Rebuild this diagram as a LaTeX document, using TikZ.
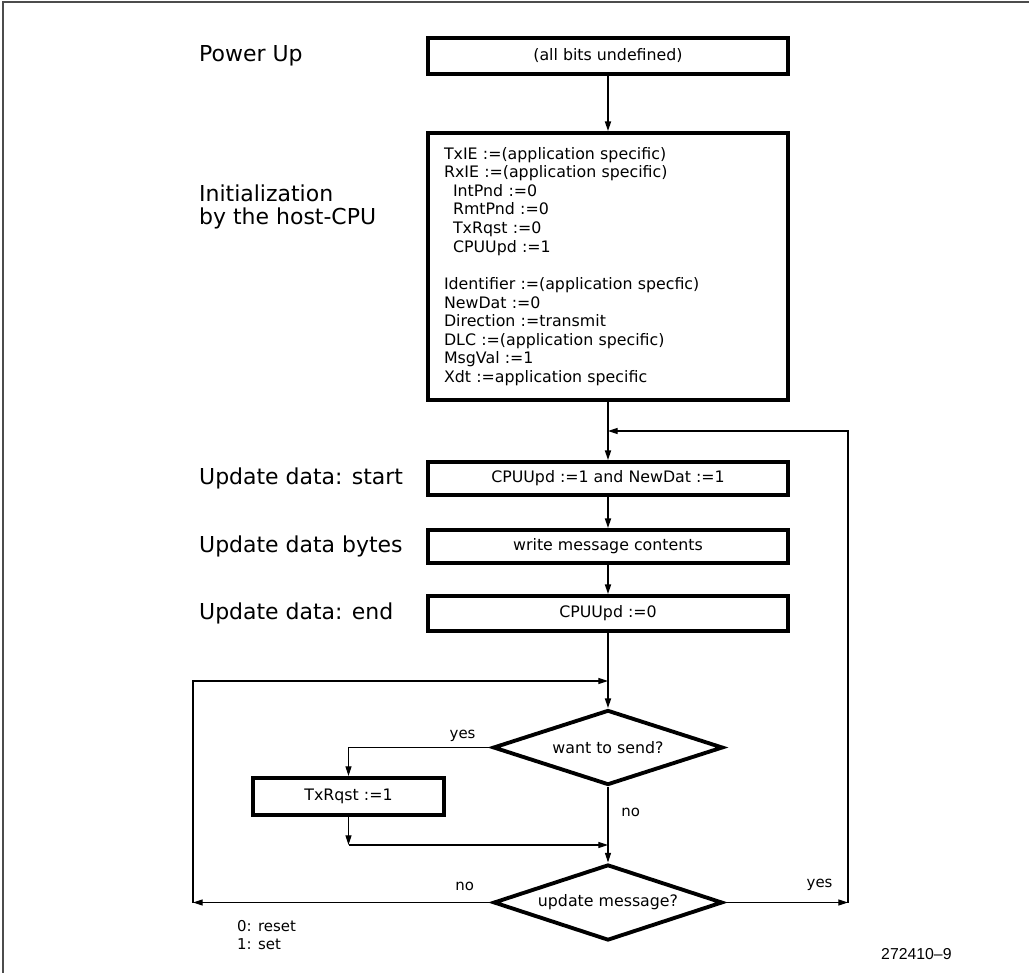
\documentclass[tikz,border=0pt]{standalone}
\usepackage{fontspec}
\setmainfont{DejaVu Sans}
\newfontfamily\fignofont{Liberation Sans}
\usetikzlibrary{positioning, shapes.geometric, arrows.meta}
\newcommand{\flowfont}{\fontsize{9}{10.6}\selectfont}
\newcommand{\stagefont}{\fontsize{12.5}{12.8}\selectfont}
\newcommand{\tagfont}{\fontsize{8.5}{10.2}\selectfont}
\tikzset{
	arrow/.style={
		draw=black,
		line width=1pt,
		-{Stealth[length=5.5pt,width=3.4pt,inset=0pt]}
	},
	loopline/.style={
		arrow,
		line width=0.6pt
	},
	flowbox/.style={
		draw=black,
		rectangle,
		line width=2.2pt,
		minimum width=7.2cm,
		inner sep=0pt,
		align=center,
		font=\flowfont
	},
	decision/.style={
		draw=black,
		diamond,
		aspect=3,
		line width=2.2pt,
		inner sep=0pt,
		font=\flowfont
	},
	stage/.style={anchor=west, align=left, font=\stagefont},
	tag/.style={font=\tagfont},
}

\begin{document}
\begin{tikzpicture}[x=0.02cm, y=-0.02cm]
\useasboundingbox (0,0) rectangle (1029,973);

% Frame
\draw[line width=1pt, black!70] (3,973) -- (3,2) -- (1029,2);

% Steps
\node[flowbox, minimum height=0.72cm] (Pwr) at (608,56) {(all bits undefined)};
\node[flowbox, minimum height=5.34cm, text width=6.56cm, align=left] (Init) at (608,266.5) {
	TxIE :=(application specific)\\
	RxIE :=(application specific)\\
	\hspace*{0.18cm}IntPnd :=0\\
	\hspace*{0.18cm}RmtPnd :=0\\
	\hspace*{0.18cm}TxRqst :=0\\
	\hspace*{0.18cm}CPUUpd :=1\\[10.6pt]
	Identifier :=(application specfic)\\
	NewDat :=0\\
	Direction :=transmit\\
	DLC :=(application specific)\\
	MsgVal :=1\\
	Xdt :=application specific
};
\node[flowbox, minimum height=0.66cm] (Start) at (608,478.5) {CPUUpd :=1 and NewDat :=1};
\node[flowbox, minimum height=0.66cm] (Bytes) at (608,546.5) {write message contents};
\node[flowbox, minimum height=0.7cm] (End) at (608,613.5) {CPUUpd :=0};

% Decisions
\node[decision, minimum width=4.6cm, minimum height=1.5cm] (Send) at (608,747.5) {want to send?};
\node[flowbox, minimum width=3.82cm, minimum height=0.74cm] (Tx) at (348.5,796.5) {TxRqst :=1};
\node[decision, minimum width=4.58cm, minimum height=1.52cm] (Upd) at (608,902.5) {update message?};

% Stage labels
\node[stage] (PwrL) at (193,56) {Power Up};
\node[stage] (InitL) at (193,207) {Initialization\\by the host-CPU};
\node[stage] (StartL) at (193,478.5) {Update data: start};
\node[stage] (BytesL) at (193,546.5) {Update data bytes};
\node[stage] (EndL) at (193,613.5) {Update data: end};

% Key and figure number
\node[tag, anchor=west, align=left] (Key) at (231,935) {0: reset\\1: set};
\node[anchor=west, font=\fignofont\fontsize{9}{10}\selectfont] (FigNo) at (875,954) {272410–9};

% Corner points
\coordinate (LoopR) at (608,431);
\coordinate (LoopL) at (608,681);
\coordinate (TxEnd) at (348.5,845);
\coordinate (Merge) at (608,845);
\coordinate (NoEnd) at (193,902.5);
\coordinate (YesEnd) at (848,902.5);

% Arrows
\draw [arrow] (Pwr) -- (Init);
\draw [arrow] (Init) -- (Start);
\draw [arrow] (Start) -- (Bytes);
\draw [arrow] (Bytes) -- (End);
\draw [arrow] (End) -- (Send);
\draw [loopline] (Send) -- node[tag, right=4pt, pos=0.34] {no} (Upd);
\draw [loopline] (Send.west) -| node[tag, above, pos=0.1] {yes} (Tx.north);
\draw [loopline] (Tx) -- (TxEnd);
\draw [loopline] (TxEnd) -- (Merge);
\draw [loopline] (Upd.west) -- node[tag, above=3pt, pos=0.09] {no} (NoEnd);
\draw [loopline] (NoEnd) |- (LoopL);
\draw [loopline] (Upd.east) -- node[tag, above=3pt, pos=0.77] {yes} (YesEnd);
\draw [loopline] (YesEnd) |- (LoopR);

\end{tikzpicture}
\end{document}
